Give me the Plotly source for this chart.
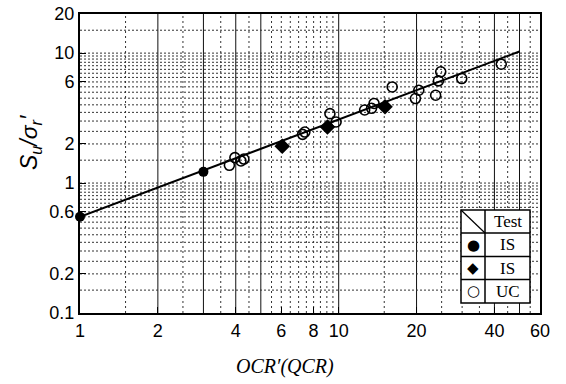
import plotly.graph_objects as go

# ---- data ----
fit_x = [1, 50]
fit_y = [0.55, 10.3]

is_circle_x = [1.0, 3.0]
is_circle_y = [0.55, 1.22]

is_diamond_x = [6.05, 9.05, 15.1]
is_diamond_y = [1.92, 2.70, 3.87]

uc_x = [3.78, 3.97, 4.19, 4.3, 7.25, 7.4, 9.25, 9.77, 12.6, 13.4, 13.7,
        16.1, 19.8, 20.4, 23.7, 24.3, 24.8, 29.9, 42.5]
uc_y = [1.37, 1.57, 1.48, 1.53, 2.37, 2.47, 3.42, 2.95, 3.65, 3.76, 4.1,
        5.49, 4.47, 5.18, 4.74, 6.12, 7.18, 6.37, 8.22]

x_tick_vals = [1, 2, 4, 6, 8, 10, 20, 40, 60]
x_tick_text = ["1", "2", "4", "6", "8", "10", "20", "40", "60"]
y_tick_vals = [0.1, 0.2, 0.6, 1, 2, 6, 10, 20]
y_tick_text = ["0.1", "0.2", "0.6", "1", "2", "6", "10", "20"]

# grid positions
x_grid = [i / 2 for i in range(3, 20)] + [10 + 5 * i for i in range(0, 10)]
x_grid_solid = [2, 3, 4, 5, 10, 20, 40, 50]
y_grid = [round(0.05 * i, 2) for i in range(3, 21)] + [i / 2 for i in range(3, 21)] + [15]

fig = go.Figure()

shapes = []
for v in x_grid:
    solid = v in x_grid_solid
    shapes.append(dict(type="line", xref="x", yref="paper", x0=v, x1=v, y0=0, y1=1,
                       layer="below",
                       line=dict(color="#111" if solid else "#333", width=1,
                                 dash="solid" if solid else "2px,3px")))
for v in y_grid:
    shapes.append(dict(type="line", xref="paper", yref="y", x0=0, x1=1, y0=v, y1=v,
                       layer="below",
                       line=dict(color="#333", width=1, dash="2px,2px")))

# legend table (pixel -> paper coords; plot area spans 80..540 x 14..313)
def px2x(p):
    return (p - 80) / 460.0

def py2y(p):
    return (313 - p) / 299.0

L, M, R = 461, 485, 530
rows = [210, 233, 256.5, 279.5, 303]
shapes.append(dict(type="rect", xref="paper", yref="paper",
                   x0=px2x(L), x1=px2x(R), y0=py2y(rows[-1]), y1=py2y(rows[0]),
                   fillcolor="white", line=dict(color="black", width=1.5), layer="above"))
for r in rows[1:-1]:
    shapes.append(dict(type="line", xref="paper", yref="paper",
                       x0=px2x(L), x1=px2x(R), y0=py2y(r), y1=py2y(r),
                       line=dict(color="black", width=1.5), layer="above"))
shapes.append(dict(type="line", xref="paper", yref="paper",
                   x0=px2x(M), x1=px2x(M), y0=py2y(rows[-1]), y1=py2y(rows[0]),
                   line=dict(color="black", width=1.5), layer="above"))
shapes.append(dict(type="line", xref="paper", yref="paper",
                   x0=px2x(L), x1=px2x(M), y0=py2y(rows[0]), y1=py2y(rows[1]),
                   line=dict(color="black", width=1.2), layer="above"))

legend_syms = ["●", "◆", "○"]
legend_labels = ["Test", "IS", "IS", "UC"]

annotations = []
for i, lab in enumerate(legend_labels):
    yc = (rows[i] + rows[i + 1]) / 2
    annotations.append(dict(xref="paper", yref="paper", x=px2x((M + R) / 2), y=py2y(yc),
                            xanchor="center", yanchor="middle",
                            text=lab, showarrow=False,
                            font=dict(family="Liberation Serif", size=17, color="black")))
for i, s in enumerate(legend_syms):
    yc = (rows[i + 1] + rows[i + 2]) / 2
    annotations.append(dict(xref="paper", yref="paper", x=px2x((L + M) / 2), y=py2y(yc),
                            xanchor="center", yanchor="middle",
                            text=s, showarrow=False,
                            font=dict(family="DejaVu Sans", size=15, color="black")))

annotations.append(dict(xref="paper", yref="paper", x=px2x(30), y=py2y(143),
                        xanchor="center", yanchor="middle",
                        text="<i>S<sub>u</sub>/σ<sub>r</sub>′</i>", textangle=-90,
                        showarrow=False,
                        font=dict(family="Liberation Sans", size=23, color="black")))
annotations.append(dict(xref="paper", yref="paper", x=px2x(285), y=py2y(366),
                        xanchor="center", yanchor="middle",
                        text="<i>OCR′(QCR)</i>", showarrow=False,
                        font=dict(family="Liberation Serif", size=20, color="black")))

fig.add_trace(go.Scatter(x=fit_x, y=fit_y, mode="lines",
                         line=dict(color="black", width=2), cliponaxis=False))
fig.add_trace(go.Scatter(x=uc_x, y=uc_y, mode="markers",
                         marker=dict(symbol="circle-open", size=10, color="black",
                                     line=dict(width=1.6, color="black")), cliponaxis=False))
fig.add_trace(go.Scatter(x=is_circle_x, y=is_circle_y, mode="markers",
                         marker=dict(symbol="circle", size=10, color="black"), cliponaxis=False))
fig.add_trace(go.Scatter(x=is_diamond_x, y=is_diamond_y, mode="markers",
                         marker=dict(symbol="diamond", size=12, color="black"), cliponaxis=False))

tickfont = dict(family="Liberation Sans", size=18, color="black")
fig.update_layout(
    width=566, height=384,
    margin=dict(l=80, r=26, t=14, b=71),
    paper_bgcolor="white", plot_bgcolor="white",
    showlegend=False,
    hovermode=False,
    shapes=shapes,
    annotations=annotations,
    xaxis=dict(type="log", range=[0, 1.7782], tickmode="array",
               tickvals=x_tick_vals, ticktext=x_tick_text, showgrid=False,
               zeroline=False, ticks="inside", ticklen=6, tickcolor="black",
               showline=True, linecolor="black", linewidth=2, mirror=True,
               tickfont=tickfont, automargin=False, ticklabeloverflow="allow"),
    yaxis=dict(type="log", range=[-1, 1.30103], tickmode="array",
               tickvals=y_tick_vals, ticktext=y_tick_text, showgrid=False,
               zeroline=False, ticks="inside", ticklen=6, tickcolor="black",
               showline=True, linecolor="black", linewidth=2, mirror=True,
               tickfont=tickfont, automargin=False, ticklabeloverflow="allow"),
)

# remove the browser's default 8px body margin so the 566x384 figure fills the window
fig.write_html("out.html", config={"displayModeBar": False},
               post_script="document.body.style.margin='0';")
